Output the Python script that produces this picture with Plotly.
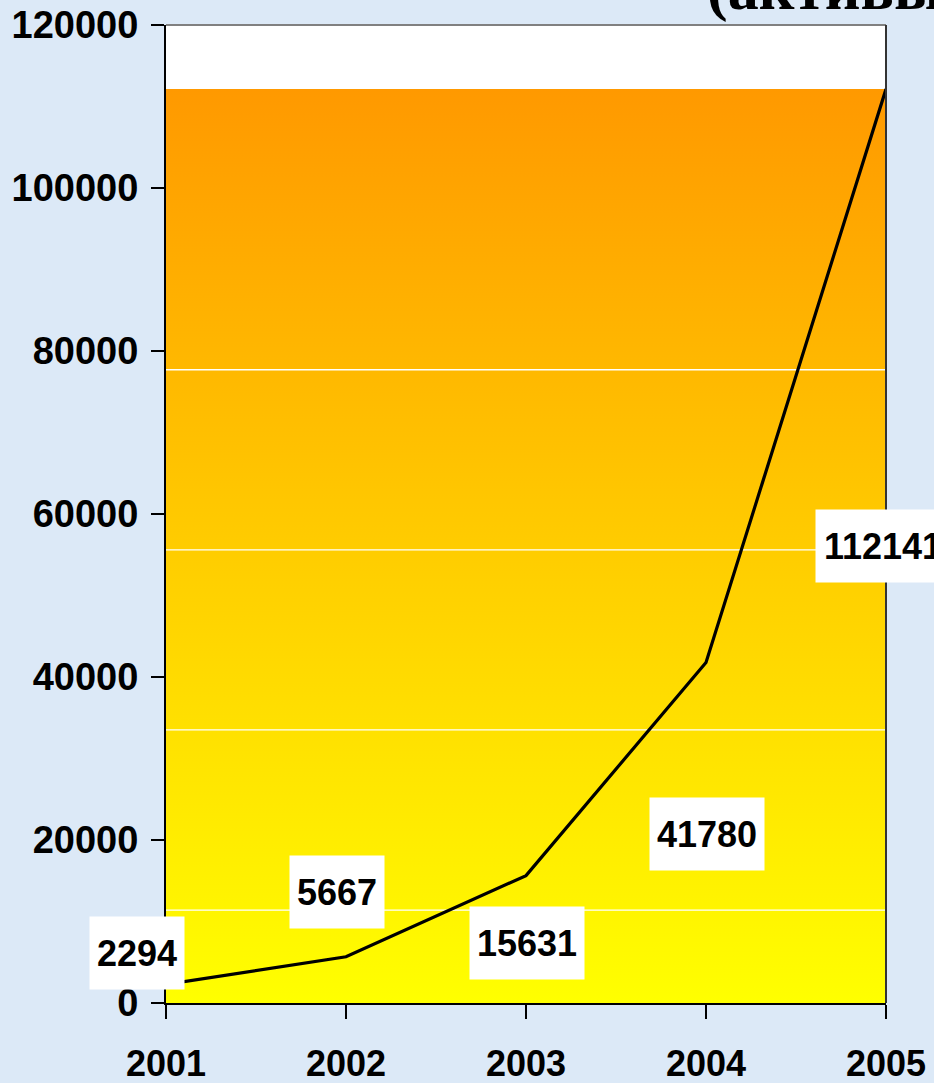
import plotly.graph_objects as go

years = [2001, 2002, 2003, 2004, 2005]
values = [2294, 5667, 15631, 41780, 112141]
y_ticks = [0, 20000, 40000, 60000, 80000, 100000, 120000]
band_lines = [11400, 33500, 55600, 77700]
title_text = "(активы)"

# label offsets in pixels (style)
label_dx = [-29, -9, 1, 1, -3]
label_dy = [31, 65, -67, -172, -457]

FONT = "Liberation Sans, Arial, sans-serif"
top = max(values)

fig = go.Figure()
fig.add_trace(go.Scatter(
    x=[years[0], years[-1]], y=[top, top], mode="lines",
    line=dict(width=0), fill="tozeroy",
    fillgradient=dict(type="vertical", start=0, stop=top,
                      colorscale=[[0, "#FFFF00"], [1, "#FF9900"]]),
    hoverinfo="skip", showlegend=False))
for g in band_lines:
    fig.add_trace(go.Scatter(x=[years[0], years[-1]], y=[g, g], mode="lines",
                             line=dict(color="white", width=1.3),
                             hoverinfo="skip", showlegend=False))
fig.add_trace(go.Scatter(x=years, y=values, mode="lines",
                         line=dict(color="black", width=3.2), showlegend=False))

for x, v, dx, dy in zip(years, values, label_dx, label_dy):
    t = str(v)
    fig.add_annotation(x=x, y=v, xref="x", yref="y", text="<b>%s</b>" % t,
                       showarrow=False, xshift=dx, yshift=dy,
                       bgcolor="white", width=len(t) * 20 + 12, height=70,
                       font=dict(family=FONT, size=36, color="black"))

fig.add_annotation(x=(705 - 166) / 720, y=1 + (25 + 12) / 978, xref="paper", yref="paper",
                   xanchor="left", yanchor="middle",
                   text="<b>%s</b>" % title_text, showarrow=False,
                   font=dict(family="Liberation Serif, Times New Roman, serif", size=62, color="black"))

fig.add_shape(type="line", xref="paper", yref="paper", x0=0, x1=1, y0=1, y1=1,
              line=dict(color="#808080", width=2))
fig.add_shape(type="line", xref="paper", yref="paper", x0=1, x1=1, y0=0, y1=1,
              line=dict(color="#333333", width=2))

fig.update_layout(
    width=934, height=1083,
    margin=dict(l=166, r=48, t=25, b=80, autoexpand=False),
    paper_bgcolor="#DCE9F7", plot_bgcolor="white",
    font=dict(family=FONT, size=36, color="black"),
    xaxis=dict(range=[years[0], years[-1]], tickvals=years,
               ticktext=["<b>%d</b>" % y for y in years],
               ticks="outside", ticklen=14, tickwidth=2, tickcolor="black",
               showline=True, linecolor="black", linewidth=2, automargin=False,
               showgrid=False, zeroline=False, ticklabelstandoff=14),
    yaxis=dict(range=[0, 120000], tickvals=y_ticks,
               ticktext=["<b>%d</b>" % y for y in y_ticks],
               tickfont=dict(size=38),
               ticks="outside", ticklen=13, tickwidth=2, tickcolor="black",
               showline=True, linecolor="black", linewidth=2, automargin=False,
               showgrid=False, zeroline=False, ticklabelstandoff=5),
)
fig.write_html("out.html", config={"displayModeBar": False},
               post_script="document.body.style.margin='0';")
